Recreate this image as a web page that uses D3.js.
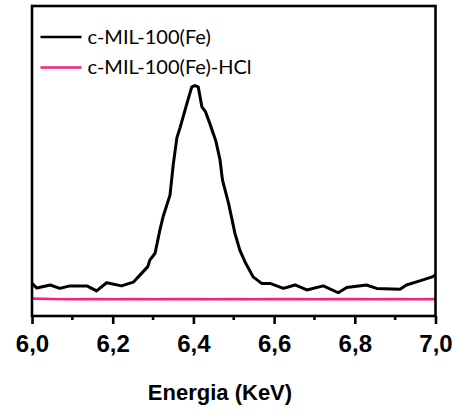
<!DOCTYPE html>
<html>
<head>
<meta charset="utf-8">
<script src="https://cdn.jsdelivr.net/npm/d3@7/dist/d3.min.js"></script>
<style>
  html, body { margin: 0; padding: 0; background: #fff; }
  svg { display: block; }
</style>
</head>
<body>
<svg id="chart" width="460" height="414"></svg>
<script>
// EDS spectrum around the Fe Kα line
const energyPristine = [6.000, 6.012, 6.045, 6.069, 6.094, 6.136, 6.160, 6.185, 6.222, 6.251,
  6.272, 6.287, 6.292, 6.305, 6.317, 6.325, 6.342, 6.350, 6.359, 6.367, 6.384, 6.396,
  6.404, 6.412, 6.421, 6.430, 6.441, 6.456, 6.466, 6.472, 6.487, 6.503, 6.515, 6.528,
  6.548, 6.569, 6.590, 6.623, 6.652, 6.681, 6.722, 6.759, 6.780, 6.829, 6.854, 6.912,
  6.928, 6.963, 6.992, 7.000];
const countsPristine = [10.8, 9.3, 10.3, 9.2, 10.0, 10.0, 8.4, 11.0, 10.0, 11.2,
  14.1, 16.2, 18.3, 20.5, 28.0, 32.3, 39.2, 48.9, 57.6, 60.9, 68.7, 74.0,
  74.4, 74.0, 67.6, 66.0, 62.1, 56.4, 50.5, 44.1, 36.6, 26.9, 21.5, 17.7,
  12.9, 10.8, 10.8, 9.2, 10.3, 8.7, 10.0, 7.8, 9.5, 10.3, 9.2, 8.9,
  10.3, 11.7, 12.9, 13.5];

const energyHCl = [6.00, 6.05, 6.10, 6.15, 6.20, 6.25, 6.30, 6.35, 6.40, 6.45, 6.50,
  6.55, 6.60, 6.65, 6.70, 6.75, 6.80, 6.85, 6.90, 6.95, 7.00];
const countsHCl = [5.9, 5.8, 5.7, 5.8, 5.7, 5.75, 5.7, 5.8, 5.75, 5.7, 5.8,
  5.7, 5.75, 5.8, 5.7, 5.75, 5.8, 5.7, 5.75, 5.7, 5.75];

const seriesNames = ["c-MIL-100(Fe)", "c-MIL-100(Fe)-HCl"];
const seriesColors = ["#000000", "#ff1f78"];
const majorTicks = [6.0, 6.2, 6.4, 6.6, 6.8, 7.0];
const minorTicks = [6.1, 6.3, 6.5, 6.7, 6.9];
const xTitle = "Energia (KeV)";

const svg = d3.select("#chart");
const plot = { left: 32, right: 435.5, top: 6, bottom: 316 };

const x = d3.scaleLinear().domain([6, 7]).range([plot.left, plot.right]);
const y = d3.scaleLinear().domain([0, 100]).range([plot.bottom + 1, plot.top]);

const line = d3.line().x(d => x(d[0])).y(d => y(d[1])).curve(d3.curveLinear);

const series = [
  d3.zip(energyPristine, countsPristine),
  d3.zip(energyHCl, countsHCl)
];

// traces (HCl first so the pristine trace sits on top)
[1, 0].forEach(i => {
  svg.append("path")
    .datum(series[i])
    .attr("fill", "none")
    .attr("stroke", seriesColors[i])
    .attr("stroke-width", i === 0 ? 3 : 2.6)
    .attr("stroke-linejoin", "round")
    .attr("d", line);
});

// frame
svg.append("rect")
  .attr("x", plot.left).attr("y", plot.top)
  .attr("width", plot.right - plot.left).attr("height", plot.bottom - plot.top)
  .attr("fill", "none").attr("stroke", "#000").attr("stroke-width", 2.6);

// bottom axis: major ticks with labels, minor ticks in between
const fmt = d => d3.format(".1f")(d).replace(".", ",");
const axis = d3.axisBottom(x).tickValues(majorTicks).tickFormat(fmt)
  .tickSizeInner(8).tickSizeOuter(0).tickPadding(12);
const gAxis = svg.append("g").attr("transform", `translate(0,${plot.bottom})`).call(axis);
gAxis.select(".domain").remove();
gAxis.selectAll(".tick line").attr("stroke", "#000").attr("stroke-width", 2.6);
gAxis.selectAll(".tick text")
  .attr("y", 35.5).attr("dy", null)
  .attr("font-family", "'Liberation Sans', Arial, sans-serif")
  .attr("font-weight", "bold").attr("font-size", 24).attr("fill", "#000");

svg.append("g").selectAll("line").data(minorTicks).join("line")
  .attr("x1", d => x(d)).attr("x2", d => x(d))
  .attr("y1", plot.bottom).attr("y2", plot.bottom + 4)
  .attr("stroke", "#000").attr("stroke-width", 2.6);

// axis title
svg.append("text")
  .attr("x", 220).attr("y", 400)
  .attr("text-anchor", "middle")
  .attr("font-family", "'Liberation Sans', Arial, sans-serif")
  .attr("font-weight", "bold").attr("font-size", 22)
  .text(xTitle);

// legend
const legend = svg.append("g");
seriesNames.forEach((name, i) => {
  const cy = 37 + i * 30.5;
  legend.append("line")
    .attr("x1", 40.5).attr("x2", 81.5).attr("y1", cy).attr("y2", cy)
    .attr("stroke", seriesColors[i]).attr("stroke-width", 2.6);
  legend.append("text")
    .attr("x", 87.5).attr("y", cy + 6.5)
    .attr("font-family", "Lato, 'Open Sans', sans-serif")
    .attr("font-size", 20).attr("fill", "#000")
    .text(name);
});
</script>
</body>
</html>
